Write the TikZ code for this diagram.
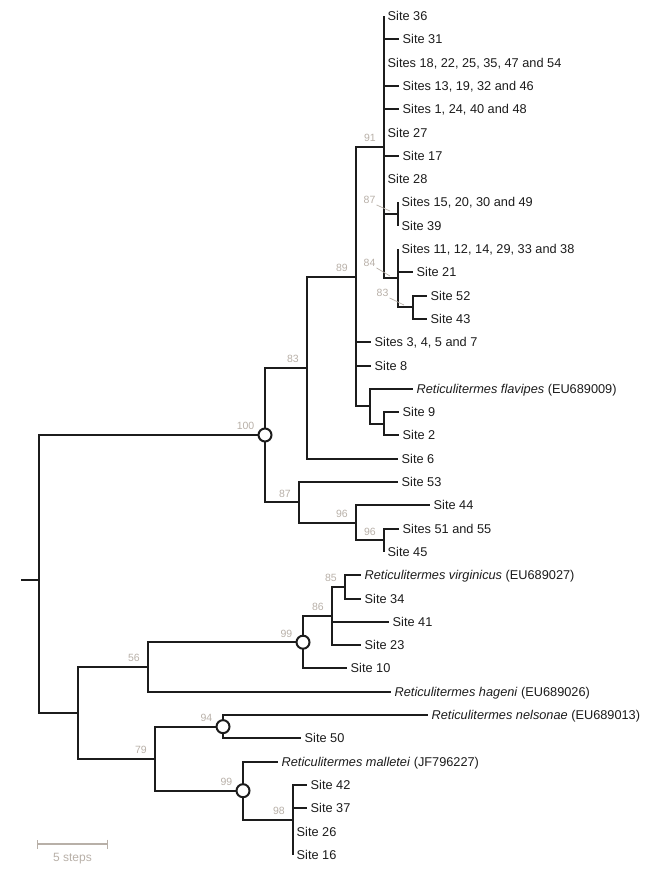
\documentclass[tikz,border=0pt]{standalone}
\usepackage{fontspec}
\setmainfont{Liberation Sans}
\usepackage{xcolor}
\usepackage{tikz}
\usetikzlibrary{arrows.meta}
\definecolor{treecolor}{RGB}{28,28,28}
\definecolor{supportgrey}{RGB}{184,176,168}

\begin{document}
\begin{tikzpicture}[
    x=1pt, y=-1pt,
    branch/.style={draw=treecolor, line width=2pt},
    leaf/.style={anchor=west, inner xsep=3.5pt, inner ysep=0pt, text height=9pt, text depth=0pt, text=treecolor, font=\fontsize{12.75}{15}\selectfont},
    support/.style={anchor=south east, inner sep=1pt, xshift=-7pt, yshift=3.75pt, text=supportgrey, font=\fontsize{10.5}{12}\selectfont},
    supportc/.style={support, xshift=-2.5pt},
    leader/.style={draw=supportgrey, line width=0.7pt},
    hub/.style={circle, draw=treecolor, fill=white, line width=2pt, minimum size=13pt, inner sep=0pt}
]
    \useasboundingbox (0,0) rectangle (666,871);

    % Leaves, upper clade
    \node[leaf] (s36) at (384,16) {Site 36};
    \node[leaf] (s31) at (399,39.3) {Site 31};
    \node[leaf] (s18) at (384,62.6) {Sites 18, 22, 25, 35, 47 and 54};
    \node[leaf] (s13) at (399,85.9) {Sites 13, 19, 32 and 46};
    \node[leaf] (s1) at (399,109.2) {Sites 1, 24, 40 and 48};
    \node[leaf] (s27) at (384,132.5) {Site 27};
    \node[leaf] (s17) at (399,155.8) {Site 17};
    \node[leaf] (s28) at (384,179.1) {Site 28};
    \node[leaf] (s15) at (398,202.4) {Sites 15, 20, 30 and 49};
    \node[leaf] (s39) at (398,225.7) {Site 39};
    \node[leaf] (s11) at (398,249) {Sites 11, 12, 14, 29, 33 and 38};
    \node[leaf] (s21) at (413,272.3) {Site 21};
    \node[leaf] (s52) at (427,295.6) {Site 52};
    \node[leaf] (s43) at (427,318.9) {Site 43};
    \node[leaf] (s3) at (371,342.2) {Sites 3, 4, 5 and 7};
    \node[leaf] (s8) at (371,365.5) {Site 8};
    \node[leaf] (flv) at (413,388.8) {\textit{Reticulitermes flavipes} (EU689009)};
    \node[leaf] (s9) at (399,412.1) {Site 9};
    \node[leaf] (s2) at (399,435.4) {Site 2};
    \node[leaf] (s6) at (398,458.7) {Site 6};
    \node[leaf] (s53) at (398,482) {Site 53};
    \node[leaf] (s44) at (430,505.3) {Site 44};
    \node[leaf] (s51) at (399,528.6) {Sites 51 and 55};
    \node[leaf] (s45) at (384,551.9) {Site 45};

    % Leaves, lower clade
    \node[leaf] (vir) at (361,575.2) {\textit{Reticulitermes virginicus} (EU689027)};
    \node[leaf] (s34) at (361,598.5) {Site 34};
    \node[leaf] (s41) at (389,621.8) {Site 41};
    \node[leaf] (s23) at (361,645.1) {Site 23};
    \node[leaf] (s10) at (347,668.4) {Site 10};
    \node[leaf] (hag) at (391,691.7) {\textit{Reticulitermes hageni} (EU689026)};
    \node[leaf] (nel) at (428,715) {\textit{Reticulitermes nelsonae} (EU689013)};
    \node[leaf] (s50) at (301,738.3) {Site 50};
    \node[leaf] (mal) at (278,761.6) {\textit{Reticulitermes malletei} (JF796227)};
    \node[leaf] (s42) at (307,784.9) {Site 42};
    \node[leaf] (s37) at (307,808.2) {Site 37};
    \node[leaf] (s26) at (293,831.5) {Site 26};
    \node[leaf] (s16) at (293,854.8) {Site 16};

    % Internal nodes
    \coordinate (stub) at (21,580);
    \coordinate (root) at (39,580);
    \coordinate (n100) at (265,435);
    \coordinate (n83) at (307,367.7);
    \coordinate (n89) at (356,276.7);
    \coordinate (n91) at (384,147);
    \coordinate (n87b) at (398,214);
    \coordinate (n84) at (398,278.1);
    \coordinate (n83b) at (413,307.3);
    \coordinate (nflv) at (370,406.3);
    \coordinate (n9x2) at (384,423.75);
    \coordinate (n87) at (299,502.4);
    \coordinate (n96) at (356,522.8);
    \coordinate (n96b) at (384,540.25);
    \coordinate (nlow) at (78,712.8);
    \coordinate (n56) at (148,667);
    \coordinate (n99) at (303,642.2);
    \coordinate (n86) at (332,616);
    \coordinate (n85) at (345,586.85);
    \coordinate (n79) at (155,758.7);
    \coordinate (n94) at (223,726.65);
    \coordinate (n99b) at (243,790.7);
    \coordinate (n98) at (293,819.85);

    % Branches
    \draw[branch] (stub) -- (root);
    \foreach \c in {n100, nlow} \draw[branch] (root) |- (\c);
    \foreach \c in {n83, n87} \draw[branch] (n100) |- (\c);
    \foreach \c in {n89, s6.west} \draw[branch] (n83) |- (\c);
    \foreach \c in {n91, s3.west, s8.west, nflv} \draw[branch] (n89) |- (\c);
    \foreach \c in {s36.west, s31.west, s18.west, s13.west, s1.west, s27.west, s17.west, s28.west, n87b, n84}
        \draw[branch] (n91) |- (\c);
    \foreach \c in {s15.west, s39.west} \draw[branch] (n87b) |- (\c);
    \foreach \c in {s11.west, s21.west, n83b} \draw[branch] (n84) |- (\c);
    \foreach \c in {s52.west, s43.west} \draw[branch] (n83b) |- (\c);
    \foreach \c in {flv.west, n9x2} \draw[branch] (nflv) |- (\c);
    \foreach \c in {s9.west, s2.west} \draw[branch] (n9x2) |- (\c);
    \foreach \c in {s53.west, n96} \draw[branch] (n87) |- (\c);
    \foreach \c in {s44.west, n96b} \draw[branch] (n96) |- (\c);
    \foreach \c in {s51.west, s45.west} \draw[branch] (n96b) |- (\c);
    \foreach \c in {n56, n79} \draw[branch] (nlow) |- (\c);
    \foreach \c in {n99, hag.west} \draw[branch] (n56) |- (\c);
    \foreach \c in {n86, s10.west} \draw[branch] (n99) |- (\c);
    \foreach \c in {n85, s41.west, s23.west} \draw[branch] (n86) |- (\c);
    \foreach \c in {vir.west, s34.west} \draw[branch] (n85) |- (\c);
    \foreach \c in {n94, n99b} \draw[branch] (n79) |- (\c);
    \foreach \c in {nel.west, s50.west} \draw[branch] (n94) |- (\c);
    \foreach \c in {mal.west, n98} \draw[branch] (n99b) |- (\c);
    \foreach \c in {s42.west, s37.west, s26.west, s16.west} \draw[branch] (n98) |- (\c);

    % Circled nodes
    \node[hub] (c100) at (n100) {};
    \node[hub] (c99) at (n99) {};
    \node[hub] (c94) at (n94) {};
    \node[hub] (c99b) at (n99b) {};

    % Support values
    \node[supportc] (l100) at (n100) {100};
    \node[support] (l83) at (n83) {83};
    \node[support] (l89) at (n89) {89};
    \node[support] (l91) at (n91) {91};
    \node[support] (l87) at (n87) {87};
    \node[support] (l96) at (n96) {96};
    \node[support] (l96b) at (n96b) {96};
    \node[support] (l56) at (n56) {56};
    \node[supportc] (l99) at (n99) {99};
    \node[support] (l86) at (n86) {86};
    \node[support] (l85) at (n85) {85};
    \node[support] (l79) at (n79) {79};
    \node[supportc] (l94) at (n94) {94};
    \node[supportc] (l99b) at (n99b) {99};
    \node[support] (l98) at (n98) {98};

    % Support values with leaders
    \coordinate (m87b) at (390,211);
    \coordinate (m84) at (390,276);
    \coordinate (m83b) at (404,305);
    \node[support, anchor=center, xshift=7pt, yshift=-3.75pt] (l87b) at (369.5,200) {87};
    \node[support, anchor=center, xshift=7pt, yshift=-3.75pt] (l84) at (369.5,263) {84};
    \node[support, anchor=center, xshift=7pt, yshift=-3.75pt] (l83b) at (382.5,293) {83};
    \draw[leader] (l87b.south east) -- (m87b);
    \draw[leader] (l84.south east) -- (m84);
    \draw[leader] (l83b.south east) -- (m83b);

    % Scale bar
    \coordinate (barL) at (37,844);
    \coordinate (barR) at (108,844);
    \draw[draw=supportgrey, line width=1.4pt, {Bar[width=9pt]}-{Bar[width=9pt]}] (barL) -- (barR);
    \node[anchor=base, inner sep=0pt, text=supportgrey, font=\fontsize{12}{14}\selectfont] (barlabel) at (72.5,861.5) {5 steps};
\end{tikzpicture}
\end{document}
